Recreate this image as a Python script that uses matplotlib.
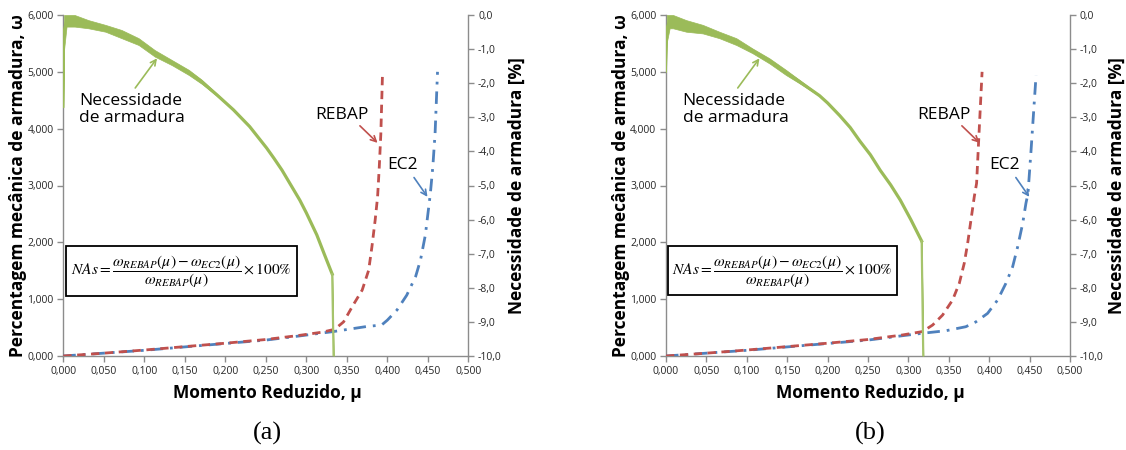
import matplotlib
matplotlib.use("Agg")
import matplotlib.pyplot as plt
import numpy as np
from matplotlib.ticker import FuncFormatter, MultipleLocator
from matplotlib.patches import Rectangle

# ---------------- data ----------------
# panel (a)
a_rebap_mu = [0.0, 0.05, 0.10, 0.15, 0.20, 0.25, 0.29, 0.32, 0.335, 0.346, 0.358, 0.369, 0.377, 0.381, 0.385, 0.388, 0.390, 0.392, 0.394]
a_rebap_w = [0.0, 0.05, 0.105, 0.165, 0.225, 0.29, 0.36, 0.42, 0.47, 0.60, 0.90, 1.16, 1.51, 1.92, 2.39, 2.80, 3.30, 3.90, 4.93]
a_ec2_mu = [0.0, 0.05, 0.10, 0.15, 0.20, 0.25, 0.29, 0.3335, 0.375, 0.393, 0.400, 0.412, 0.424, 0.435, 0.441, 0.447, 0.4502, 0.4531, 0.4562, 0.459, 0.462]
a_ec2_w = [0.0, 0.05, 0.10, 0.16, 0.22, 0.28, 0.35, 0.43, 0.52, 0.545, 0.63, 0.81, 1.07, 1.40, 1.69, 2.13, 2.51, 2.85, 3.33, 3.92, 5.0]
a_nas_mu = [0.0, 0.001, 0.004, 0.014, 0.031, 0.052, 0.072, 0.093, 0.113, 0.134, 0.155, 0.171, 0.19, 0.21, 0.23, 0.24, 0.251, 0.26, 0.27, 0.28, 0.292, 0.30, 0.313, 0.322, 0.332, 0.3337]
a_nas_hi = [-2.7, 0.0, 0.0, 0.0, -0.15, -0.29, -0.44, -0.68, -1.03, -1.32, -1.61, -1.90, -2.32, -2.78, -3.27, -3.57, -3.90, -4.20, -4.55, -4.95, -5.43, -5.80, -6.45, -7.00, -7.60, -10.0]
a_nas_lo = [-2.7, -1.0, -0.34, -0.34, -0.39, -0.49, -0.68, -0.88, -1.22, -1.47, -1.76, -2.02, -2.38, -2.78, -3.27, -3.57, -3.90, -4.20, -4.55, -4.95, -5.43, -5.80, -6.45, -7.00, -7.60, -10.0]

# panel (b)
b_rebap_mu = [0.0, 0.05, 0.10, 0.15, 0.20, 0.25, 0.2927, 0.3175, 0.330, 0.3423, 0.3547, 0.363, 0.3691, 0.3733, 0.3774, 0.3815, 0.3844, 0.387, 0.3912]
b_rebap_w = [0.0, 0.05, 0.105, 0.165, 0.225, 0.29, 0.37, 0.43, 0.545, 0.72, 0.985, 1.28, 1.63, 1.98, 2.39, 2.80, 3.04, 3.80, 5.0]
b_ec2_mu = [0.0, 0.05, 0.10, 0.15, 0.20, 0.25, 0.2927, 0.3175, 0.3465, 0.371, 0.3835, 0.398, 0.4104, 0.4207, 0.429, 0.4352, 0.4414, 0.4455, 0.448, 0.4518, 0.458]
b_ec2_w = [0.0, 0.05, 0.10, 0.16, 0.22, 0.28, 0.357, 0.40, 0.445, 0.515, 0.60, 0.75, 0.985, 1.28, 1.57, 1.92, 2.33, 2.69, 2.86, 3.62, 4.94]
b_nas_mu = [0.0, 0.001, 0.0045, 0.0087, 0.025, 0.0455, 0.066, 0.087, 0.107, 0.128, 0.1485, 0.165, 0.19, 0.20, 0.215, 0.228, 0.240, 0.253, 0.265, 0.278, 0.290, 0.303, 0.3164, 0.3184]
b_nas_hi = [-1.66, 0.0, 0.0, 0.0, -0.15, -0.29, -0.49, -0.68, -0.98, -1.27, -1.61, -1.90, -2.35, -2.58, -2.95, -3.30, -3.70, -4.10, -4.55, -4.98, -5.43, -6.00, -6.63, -10.0]
b_nas_lo = [-1.66, -0.8, -0.39, -0.39, -0.49, -0.54, -0.68, -0.88, -1.12, -1.42, -1.76, -2.00, -2.38, -2.58, -2.95, -3.30, -3.70, -4.10, -4.55, -4.98, -5.43, -6.00, -6.63, -10.0]

panel_labels = ["(a)", "(b)"]
x_ticks = [0.0, 0.05, 0.10, 0.15, 0.20, 0.25, 0.30, 0.35, 0.40, 0.45, 0.50]

# ---------------- style ----------------
RED = "#C0504D"
BLUE = "#4F81BD"
GREEN = "#9BBB59"
GRAY = "#8C8C8C"
TXT = "#262626"
SANS = ["Open Sans", "DejaVu Sans"]
plt.rcParams["font.family"] = SANS
plt.rcParams["mathtext.fontset"] = "stix"

W, H = 1126, 450
fig = plt.figure(figsize=(W / 100, H / 100), dpi=100)


def fx(px):
    return px / W


def fy(py):
    return 1 - py / H


def comma3(v, p):
    return f"{v:.3f}".replace(".", ",")


def comma1(v, p):
    s = f"{v:.1f}".replace(".", ",")
    return "0,0" if s == "-0,0" else s


panels = [
    dict(left=63.3, right=468.3, rebap=(a_rebap_mu, a_rebap_w), ec2=(a_ec2_mu, a_ec2_w),
         nas=(a_nas_mu, a_nas_hi, a_nas_lo), box=(66, 246, 297, 296),
         ylab_x=18, rlab_x=516.7),
    dict(left=666, right=1070, rebap=(b_rebap_mu, b_rebap_w), ec2=(b_ec2_mu, b_ec2_w),
         nas=(b_nas_mu, b_nas_hi, b_nas_lo), box=(668, 246, 897, 295),
         ylab_x=621, rlab_x=1116.7),
]

formula = r"$NAs=\dfrac{\omega_{REBAP}\left(\mu\right)-\omega_{EC2}\left(\mu\right)}{\omega_{REBAP}\left(\mu\right)}\times100\%$"

for i, P in enumerate(panels):
    ax = fig.add_axes([fx(P["left"]), fy(356), fx(P["right"] - P["left"]), (356 - 15) / H])
    ax2 = ax.twinx()
    ax.set_xlim(0, 0.5)
    ax.set_ylim(0, 6)
    ax2.set_ylim(-10, 0)

    mu_r, w_r = P["rebap"]
    mu_e, w_e = P["ec2"]
    mu_n, hi_n, lo_n = P["nas"]
    ax.plot(mu_e, w_e, color=BLUE, lw=2.0, linestyle=(0, (4.5, 2.5, 1, 2.5)), zorder=3)
    ax.plot(mu_r, w_r, color=RED, lw=2.0, linestyle=(0, (3.0, 2.0)), zorder=4)

    mid = (np.array(hi_n) + np.array(lo_n)) / 2
    ax2.fill_between(mu_n, lo_n, hi_n, color=GREEN, lw=0.5, edgecolor=GREEN)
    ax2.plot(mu_n[:2], mid[:2], color=GREEN, lw=1.4)
    ax2.plot(mu_n[1:-1], mid[1:-1], color=GREEN, lw=2.3, solid_joinstyle="round")
    ax2.plot(mu_n[-2:], mid[-2:], color="#A6C46C", lw=1.6)

    for a in (ax, ax2):
        for s in a.spines.values():
            s.set_color(GRAY)
            s.set_linewidth(1.0)
        a.spines["top"].set_visible(False)
    ax.spines["right"].set_visible(False)
    ax2.spines["left"].set_visible(False)
    ax2.spines["bottom"].set_visible(False)

    ax.set_xticks(x_ticks)
    ax.yaxis.set_major_locator(MultipleLocator(1))
    ax2.yaxis.set_major_locator(MultipleLocator(1))
    ax.xaxis.set_major_formatter(FuncFormatter(comma3))
    ax.yaxis.set_major_formatter(FuncFormatter(comma3))
    ax2.yaxis.set_major_formatter(FuncFormatter(comma1))
    for a in (ax, ax2):
        a.tick_params(axis="both", direction="out", length=4, width=1, color=GRAY,
                      labelsize=7.5, labelcolor=TXT, pad=3)

    # formula box
    x0, y0, x1, y1 = P["box"]
    fig.patches.append(Rectangle((fx(x0), fy(y1)), fx(x1 - x0), (y1 - y0) / H,
                                 transform=fig.transFigure, fill=True, fc="white",
                                 ec="black", lw=1.3, zorder=5))
    fig.text(fx((x0 + x1) / 2), fy((y0 + y1) / 2 + 1), formula, ha="center", va="center",
             fontsize=11.2, color="black", zorder=6)

    # annotations
    ax2.text(0.0194 if i == 0 else 0.0207, -2.77, "Necessidade\nde armadura", ha="left",
             va="center", fontsize=12.5, color="black", linespacing=1.15)
    ax2.annotate("", xy=(0.1157, -1.27), xytext=(0.0888, -2.14),
                 arrowprops=dict(arrowstyle="->", color=GREEN, lw=1.2, shrinkA=0, shrinkB=0))
    ax.text(0.3435, 4.24, "REBAP", ha="center", va="center", fontsize=12.5, color="black")
    ax.annotate("", xy=(0.3880, 3.75), xytext=(0.3662, 4.05),
                arrowprops=dict(arrowstyle="->", color=RED, lw=1.2, shrinkA=0, shrinkB=0))
    ax.text(0.4189, 3.36, "EC2", ha="center", va="center", fontsize=12.5, color="black")
    ax.annotate("", xy=(0.4496, 2.80), xytext=(0.4330, 3.14),
                arrowprops=dict(arrowstyle="->", color=BLUE, lw=1.2, shrinkA=0, shrinkB=0))

    # axis titles
    cx = (P["left"] + P["right"]) / 2
    fig.text(fx(cx + 2), fy(393), "Momento Reduzido, μ", ha="center", va="center",
             fontsize=12.5, fontweight="bold", color="black")
    fig.text(fx(P["ylab_x"]), fy(186), "Percentagem mecânica de armadura, ω", ha="center",
             va="center", rotation=90, fontsize=12.5, fontweight="bold", color="black")
    fig.text(fx(P["rlab_x"]), fy(186), "Necessidade de armadura [%]", ha="center",
             va="center", rotation=90, fontsize=12.5, fontweight="bold", color="black")
    fig.text(fx(cx + 2), fy(433), panel_labels[i], ha="center", va="center",
             fontsize=19, family=["Liberation Serif", "DejaVu Serif"], color="black")

fig.savefig("out.png", dpi=100)
